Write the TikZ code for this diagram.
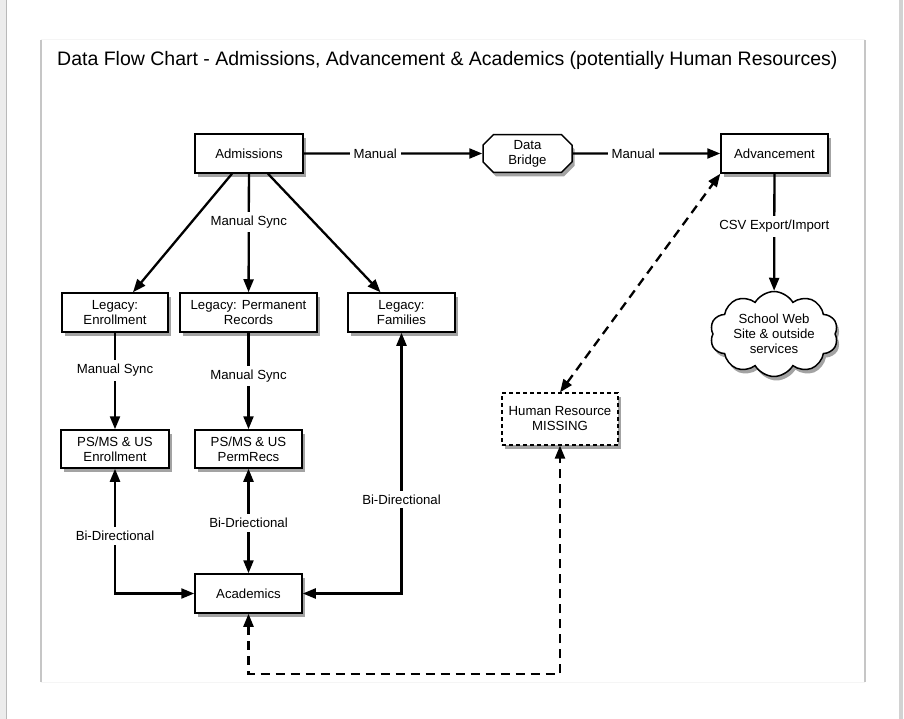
\documentclass[tikz,border=0pt]{standalone}
\usepackage{fontspec}
\setmainfont{Liberation Sans}
\usetikzlibrary{shapes.misc}
\usetikzlibrary{shapes.symbols}
\usetikzlibrary{shadows}
\usetikzlibrary{arrows.meta}
\usetikzlibrary{calc}
\tikzset{
every picture/.style={x=1pt, y=-1pt,
                       >={Triangle[length=13pt,width=10pt]}},
%%%%%%%%%%  Node styles
box/.style={draw, line width=1.5pt, fill=white, align=center, inner sep=2pt,
            font=\fontsize{13.2}{15}\selectfont,
            drop shadow={shadow xshift=2.5pt, shadow yshift=-4pt,
                         opacity=0.45, fill=black!80}},
bridge/.style={box, chamfered rectangle, chamfered rectangle xsep=7pt},
webcloud/.style={box, cloud, cloud puffs=10, cloud puff arc=120, aspect=1.7,
                 inner sep=0pt},
missingbox/.style={box, dash pattern=on 4pt off 3pt, line width=1.2pt},
%%%% different line styles:
flow/.style={->, line width=2.3pt},
sync/.style={<->, line width=2.3pt},
missinglink/.style={<->, line width=2.3pt, dash pattern=on 9pt off 6pt},
%%%%%%% Labels on connectors
lbl/.style={fill=white, inner sep=4pt, font=\fontsize{13.2}{15}\selectfont}
}

\begin{document}
\begin{tikzpicture}
\useasboundingbox (0,0) rectangle (904,719);
%%%% page frame
\fill[gray!15] (0,0) rectangle (6,719);
\draw[gray!55, line width=1pt] (6.5,0) -- (6.5,719);
\fill[gray!35] (899,0) rectangle (903,719);
\draw[gray!8, line width=1pt] (41,40) -- (865,40) (41,682) -- (865,682);
\draw[gray!45, line width=1.2pt] (41,40) -- (41,682) (865,40) -- (865,682);
\node[anchor=west, inner sep=0pt, font=\fontsize{19.5}{22}\selectfont] (title)
  at (57,60) {Data Flow Chart - Admissions, Advancement \& Academics (potentially Human Resources)};
%%%% nodes
\node[box, minimum width=108pt, minimum height=39pt] (adm) at (249,153.5) {Admissions};
\node[bridge, minimum width=89pt, minimum height=37pt] (bridge) at (527.5,153.5) {Data\\Bridge};
\node[box, minimum width=107pt, minimum height=39pt] (adv) at (774.5,153.5) {Advancement};
\node[webcloud, minimum width=128pt, minimum height=76pt] (web) at (774,334) {School Web\\Site \& outside\\services};
\node[box, minimum width=106pt, minimum height=39pt] (legEnr) at (115,312.5) {Legacy:\\Enrollment};
\node[box, minimum width=137pt, minimum height=39pt] (legPerm) at (248.5,312.5) {Legacy: Permanent\\Records};
\node[box, minimum width=107pt, minimum height=39pt] (legFam) at (401.5,312.5) {Legacy:\\Families};
\node[box, minimum width=108pt, minimum height=38pt] (psEnr) at (115,449) {PS/MS \& US\\Enrollment};
\node[box, minimum width=107pt, minimum height=38pt] (psPerm) at (248.5,449) {PS/MS \& US\\PermRecs};
\node[box, minimum width=107pt, minimum height=39pt] (acad) at (248.5,593.5) {Academics};
\node[missingbox, minimum width=116pt, minimum height=52pt] (hr) at (560,419) {Human Resource\\MISSING};
\coordinate (dip) at (248.5,674);
%%%% connectors
\draw[flow] (adm) -- node[lbl, pos=0.4] {Manual} (bridge);
\draw[flow] (bridge) -- node[lbl, pos=0.41] {Manual} (adv);
\draw[flow] (adv) -- node[lbl, pos=0.45] {CSV Export/Import} (web);
\draw[flow] ($(adm.south)+(-17,0)$) -- ($(legEnr.north)+(18,0)$);
\draw[flow] (adm) -- node[lbl, pos=0.41] {Manual Sync} (legPerm);
\draw[flow] ($(adm.south)+(19,0)$) -- ($(legFam.north)+(-21,0)$);
\draw[flow] (legEnr) -- node[lbl, pos=0.39] {Manual Sync} (psEnr);
\draw[flow] (legPerm) -- node[lbl, pos=0.45] {Manual Sync} (psPerm);
\draw[sync] (psEnr.south) |- node[lbl, pos=0.27] {Bi-Directional} (acad.west);
\draw[sync] (psPerm) -- node[lbl, pos=0.52] {Bi-Driectional} (acad);
\draw[sync] (legFam.south) |- node[lbl, pos=0.32] {Bi-Directional} (acad.east);
\draw[missinglink] (hr.north) -- (adv.south west);
\draw[missinglink] (acad.south) -- (dip) -| (hr.south);
\end{tikzpicture}
\end{document}
